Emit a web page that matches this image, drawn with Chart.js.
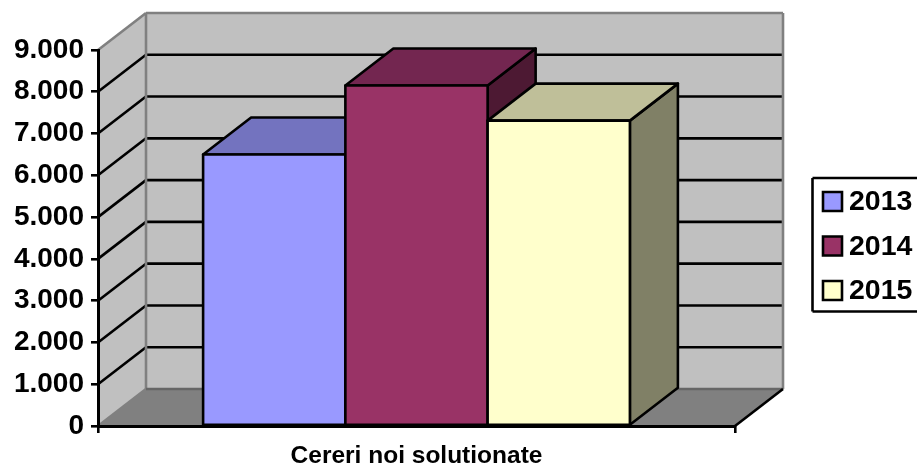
<!DOCTYPE html>
<html>
<head>
<meta charset="utf-8">
<style>
  html, body { margin: 0; padding: 0; background: #fff; overflow: hidden; }
  canvas { display: block; }
</style>
<script src="https://cdn.jsdelivr.net/npm/chart.js@4"></script>
</head>
<body>
<canvas id="myChart" width="917" height="463"></canvas>
<script>
// chart data
const categories = ["Cereri noi solutionate"];
const seriesNames = ["2013", "2014", "2015"];
const values2013 = [6500];
const values2014 = [8150];
const values2015 = [7310];
const yTickLabels = ["0", "1.000", "2.000", "3.000", "4.000", "5.000", "6.000", "7.000", "8.000", "9.000"];

// front, top and side colour of each series
const frontColors = ["#9999FF", "#993366", "#FFFFCC"];
const topColors = ["#7373BF", "#732650", "#BFBF99"];
const sideColors = ["#4D4D80", "#4D1933", "#808066"];

const fontFamily = "'Liberation Sans', Arial, sans-serif";
const depthX = 48;
const depthY = 37;
const inkWidth = 2.6;

const poly = (ctx, points, fill, stroke, lineWidth) => {
  ctx.beginPath();
  points.forEach((p, i) => (i ? ctx.lineTo(p[0], p[1]) : ctx.moveTo(p[0], p[1])));
  ctx.closePath();
  if (fill) {
    ctx.fillStyle = fill;
    ctx.fill();
  }
  if (stroke) {
    ctx.strokeStyle = stroke;
    ctx.lineWidth = lineWidth || inkWidth;
    ctx.stroke();
  }
};

const line = (ctx, x1, y1, x2, y2, color, lineWidth) => {
  ctx.beginPath();
  ctx.moveTo(x1, y1);
  ctx.lineTo(x2, y2);
  ctx.strokeStyle = color;
  ctx.lineWidth = lineWidth || inkWidth;
  ctx.stroke();
};

// walls, floor and gridlines behind the bars
const wallsPlugin = {
  id: "walls",
  beforeDraw(chart) {
    const ctx = chart.ctx;
    const xs = chart.scales.x;
    const ys = chart.scales.y;
    const l = xs.left, r = xs.right;
    const b = ys.getPixelForValue(0), t = ys.getPixelForValue(9000);
    ctx.save();
    ctx.lineJoin = "miter";
    poly(ctx, [[l + depthX, t - depthY], [r + depthX, t - depthY], [r + depthX, b - depthY], [l + depthX, b - depthY]], "#C0C0C0");
    poly(ctx, [[l, t], [l + depthX, t - depthY], [l + depthX, b - depthY], [l, b]], "#C0C0C0");
    poly(ctx, [[l, b], [l + depthX, b - depthY], [r + depthX, b - depthY], [r, b]], "#808080");
    for (let v = 1000; v < 9000; v += 1000) {
      const y = ys.getPixelForValue(v);
      line(ctx, l, y, l + depthX, y - depthY, "#000");
      line(ctx, l + depthX, y - depthY, r + depthX, y - depthY, "#000");
    }
    // wall edges
    line(ctx, l, t, l + depthX, t - depthY, "#808080");
    line(ctx, l + depthX, t - depthY, r + depthX, t - depthY, "#808080");
    line(ctx, l + depthX, t - depthY, l + depthX, b - depthY, "#808080");
    line(ctx, r + depthX, t - depthY, r + depthX, b - depthY, "#808080");
    line(ctx, l, b, l + depthX, b - depthY, "#808080");
    line(ctx, l + depthX, b - depthY, r + depthX, b - depthY, "#666");
    line(ctx, r, b, r + depthX, b - depthY, "#000");
    ctx.restore();
  },
};

// bars are painted here left to right, each with its side and top first,
// so the next bar covers the one before it
const bars3dPlugin = {
  id: "bars3d",
  beforeDatasetDraw() {
    return false;
  },
  afterDatasetsDraw(chart) {
    const ctx = chart.ctx;
    chart.data.datasets.forEach((ds, i) => {
      const bar = chart.getDatasetMeta(i).data[0];
      const left = bar.x - bar.width / 2;
      const right = bar.x + bar.width / 2;
      ctx.save();
      ctx.lineJoin = "round";
      poly(ctx, [[right, bar.y], [right + depthX, bar.y - depthY], [right + depthX, bar.base - depthY], [right, bar.base]], sideColors[i], "#000");
      poly(ctx, [[left, bar.y], [left + depthX, bar.y - depthY], [right + depthX, bar.y - depthY], [right, bar.y]], topColors[i], "#000");
      bar.draw(ctx);
      // outline centred on the bar edge so neighbours share one line
      poly(ctx, [[left, bar.y], [right, bar.y], [right, bar.base], [left, bar.base]], null, "#000");
      ctx.restore();
    });
  },
};

// legend box runs off the right edge of the picture, as in the source
const legendPlugin = {
  id: "boxLegend",
  afterDraw(chart) {
    const ctx = chart.ctx;
    ctx.save();
    line(ctx, 812.5, 178, 930, 178, "#000");
    line(ctx, 812.5, 178, 812.5, 311.5, "#000");
    line(ctx, 812.5, 311.5, 930, 311.5, "#000");
    ctx.font = "bold 28.5px " + fontFamily;
    ctx.textBaseline = "middle";
    chart.data.datasets.forEach((ds, i) => {
      const y = 201.5 + i * 44.5;
      poly(ctx, [[823, y - 9.5], [842, y - 9.5], [842, y + 9.5], [823, y + 9.5]], ds.backgroundColor, "#000");
      ctx.fillStyle = "#000";
      ctx.fillText(ds.label, 849, y + 1);
    });
    ctx.restore();
  },
};

const seriesValues = [values2013, values2014, values2015];

new Chart(document.getElementById("myChart"), {
  type: "bar",
  data: {
    labels: categories,
    datasets: seriesNames.map((name, i) => ({
      label: name,
      data: seriesValues[i],
      backgroundColor: frontColors[i],
      borderWidth: 0,
      categoryPercentage: 0.67,
      barPercentage: 1,
    })),
  },
  options: {
    responsive: false,
    animation: false,
    layout: { padding: { left: 0, right: 182, top: 50, bottom: 0 } },
    plugins: {
      legend: { display: false },
      tooltip: { enabled: false },
    },
    scales: {
      x: {
        offset: true,
        afterFit: (scale) => { scale.height = 37; },
        border: { color: "#000", width: 3 },
        grid: { offset: true, drawOnChartArea: false, color: "#000", lineWidth: inkWidth, tickLength: 7 },
        ticks: {
          padding: 9,
          maxRotation: 0,
          color: "#000",
          font: { family: fontFamily, weight: "bold", size: 24.5 },
        },
      },
      y: {
        min: 0,
        max: 9000,
        afterFit: (scale) => { scale.width = 98; },
        border: { color: "#000", width: 3 },
        grid: { drawOnChartArea: false, color: "#000", lineWidth: inkWidth, tickLength: 7 },
        ticks: {
          stepSize: 1000,
          padding: 7,
          color: "#000",
          font: { family: fontFamily, weight: "bold", size: 28 },
          callback: (value, index) => yTickLabels[index],
        },
      },
    },
  },
  plugins: [wallsPlugin, bars3dPlugin, legendPlugin],
});
</script>
</body>
</html>
